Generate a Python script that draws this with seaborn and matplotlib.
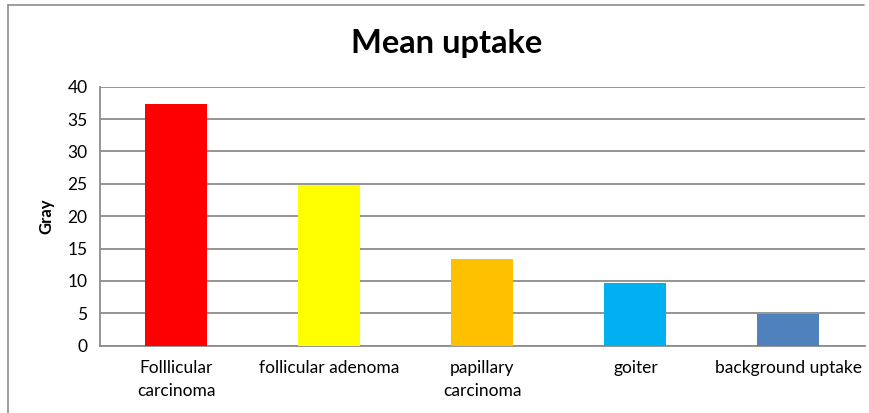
import seaborn as sns
import matplotlib.pyplot as plt
import pandas as pd
from matplotlib.lines import Line2D

categories = ['Folllicular\ncarcinoma', 'follicular adenoma', 'papillary\ncarcinoma',
              'goiter', 'background uptake']
mean_uptake = [37.3, 24.8, 13.4, 9.7, 4.9]
bar_colors = ['#FF0000', '#FFFF00', '#FFC000', '#00B0F0', '#4F81BD']
y_ticks = [0, 5, 10, 15, 20, 25, 30, 35, 40]

df = pd.DataFrame({'category': categories, 'gray': mean_uptake})

sns.set_style('white')
plt.rcParams['font.family'] = ['Lato', 'DejaVu Sans']

fig = plt.figure(figsize=(8.7, 4.13), dpi=100)
ax = fig.add_axes([0.1149, 0.163, 0.8793, 0.627])

sns.barplot(data=df, x='category', y='gray', hue='category', palette=bar_colors,
            legend=False, width=0.405, saturation=1, linewidth=0, ax=ax, zorder=3)

ax.set_ylim(0, 40)
ax.set_xlim(-0.5, 4.5)
ax.set_yticks(y_ticks)
ax.yaxis.grid(True, color='#8c8c8c', linewidth=1.3, zorder=0)
ax.set_axisbelow(True)
for side in ['top', 'right']:
    ax.spines[side].set_visible(False)
for side in ['left', 'bottom']:
    ax.spines[side].set_color('#8c8c8c')
    ax.spines[side].set_linewidth(1.3)
ax.tick_params(axis='both', length=0, labelsize=12.5, colors='black')
ax.tick_params(axis='x', pad=10)
ax.tick_params(axis='y', pad=9)
for lbl in ax.get_xticklabels():
    lbl.set_linespacing(1.55)
ax.set_xlabel('')
ax.set_ylabel('Gray', fontsize=12, fontweight='bold', labelpad=9, color='black')

# chart title is centred on the whole chart area, not the plot area
fig.text(447 / 870, 1 - 43 / 413, 'Mean uptake', fontsize=23.5, fontweight='bold',
         color='black', ha='center', va='center')

# outer chart frame
fig.add_artist(Line2D([8 / 870, 864 / 870], [1 - 5 / 413, 1 - 5 / 413],
                      transform=fig.transFigure, color='#8c8c8c', linewidth=1.2))
fig.add_artist(Line2D([8 / 870, 8 / 870], [0, 1 - 5 / 413],
                      transform=fig.transFigure, color='#8c8c8c', linewidth=1.2))

fig.savefig('out.png', dpi=100)
